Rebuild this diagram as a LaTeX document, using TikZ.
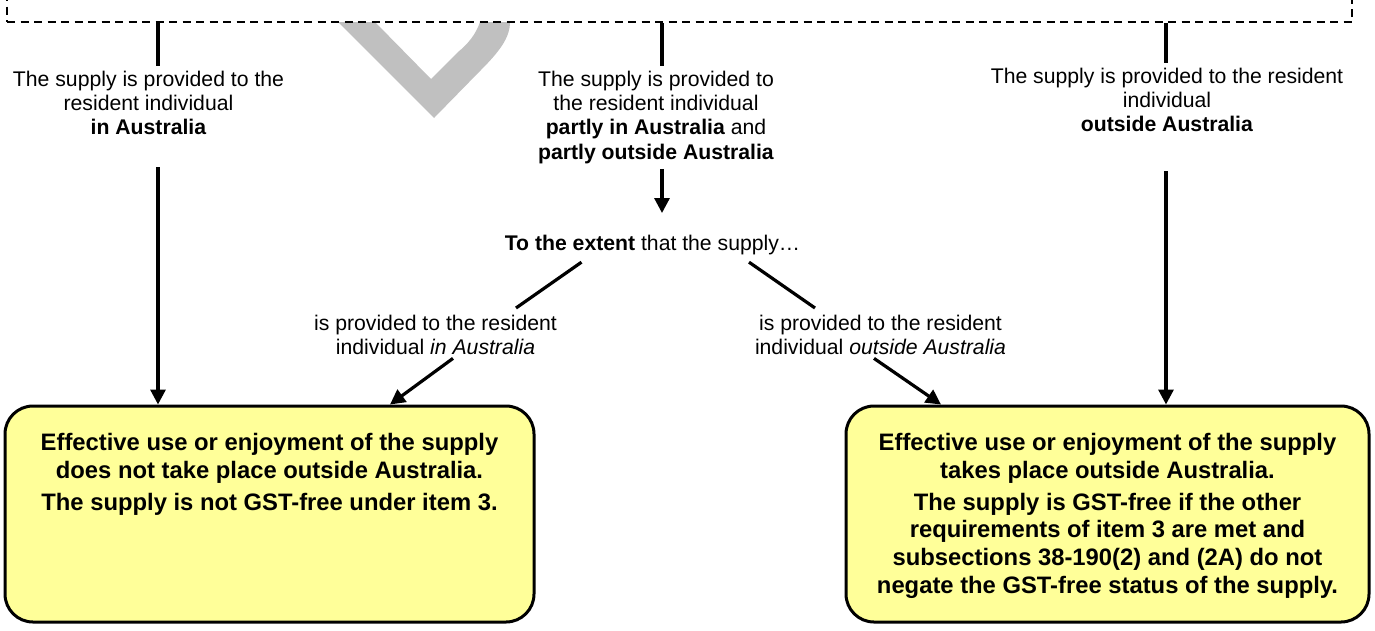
\documentclass[tikz,border=0pt]{standalone}
\usepackage{fontspec}
\setmainfont{Liberation Sans}
\usetikzlibrary{arrows.meta,calc}
\definecolor{boxfill}{RGB}{255,255,153}
\definecolor{wmgrey}{RGB}{192,192,192}
\begin{document}
\begin{tikzpicture}[x=1pt,y=-1pt,
  lbl/.style={align=center,inner xsep=0pt,inner ysep=5pt,anchor=north,font=\fontsize{21.2pt}{24.4pt}\selectfont},
  boxtxt/.style={align=center,inner sep=0pt,anchor=north,font=\fontsize{23.8pt}{27.8pt}\selectfont\bfseries},
  resbox/.style={draw,line width=3pt,fill=boxfill,rounded corners=28pt,minimum height=216pt,inner sep=0pt},
  conn/.style={line width=3.2pt},
  arr/.style={conn,-{Triangle[length=15pt,width=15pt]}},
  dashbox/.style={draw,dash pattern=on 8pt off 5.5pt,line width=1.8pt,inner sep=0pt}]
\useasboundingbox (0,0) rectangle (1375,630);
\clip (0,0) rectangle (1375,630);
% watermark fragment
\fill[wmgrey] (338,22) -- (434,118) -- (480,71) .. controls (499,52) and (510,38) .. (510,22)
  -- (480,22) .. controls (476,34) and (468,44) .. (458,52) -- (431,79) -- (375,22) -- cycle;
% top dashed box (cut off)
\node[dashbox,minimum width=1345pt,minimum height=60pt] (top) at (679.5,-8) {};
% columns
\coordinate (colL) at (158,0);
\coordinate (colM) at (662,0);
\coordinate (colR) at (1166,0);
% labels
\node[lbl] (lblL) at (148.5,65.5) {The supply is provided to the\\resident individual\\\textbf{in Australia}};
\node[lbl] (lblM) at (656,65.5) {The supply is provided to\\the resident individual\\\textbf{partly in Australia} and\\\textbf{partly outside Australia}};
\node[lbl] (lblR) at (1167,62.5) {The supply is provided to the resident\\individual\\\textbf{outside Australia}};
\node[lbl] (extent) at (652.5,230) {\textbf{To the extent} that the supply…};
\node[lbl] (inL) at (435.5,310) {is provided to the resident\\individual \textit{in Australia}};
\node[lbl] (inR) at (880.5,310) {is provided to the resident\\individual \textit{outside Australia}};
% result boxes
\node[resbox,minimum width=529pt] (boxL) at (269.5,514) {};
\node[resbox,minimum width=523pt] (boxR) at (1107.5,514) {};
\node[boxtxt] (txtL) at (269.5,433) {Effective use or enjoyment of the supply\\does not take place outside Australia.\\[4pt]The supply is not GST-free under item 3.};
\node[boxtxt] (txtR) at (1107.5,433) {Effective use or enjoyment of the supply\\takes place outside Australia.\\[4pt]The supply is GST-free if the other\\requirements of item 3 are met and\\subsections 38-190(2) and (2A) do not\\negate the GST-free status of the supply.};
% connectors
\draw[conn] (top.south -| colL) -- (lblL.north -| colL);
\draw[arr,shorten <=27pt] (lblL.south -| colL) -- (boxL.north -| colL);
\draw[conn] (top.south -| colM) -- (lblM.north -| colM);
\draw[arr,shorten >=17pt] (lblM.south -| colM) -- (extent.north -| colM);
\draw[conn] (top.south -| colR) -- (lblR.north -| colR);
\draw[arr,shorten <=34pt] (lblR.south -| colR) -- (boxR.north -| colR);
\draw[conn] ([xshift=-71pt,yshift=-2pt]extent.south) -- ([xshift=80.5pt,yshift=2pt]inL.north);
\draw[arr] ([xshift=17.5pt,yshift=2pt]inL.south) -- ([xshift=120.5pt]boxL.north);
\draw[conn] ([xshift=96.5pt,yshift=-2pt]extent.south) -- ([xshift=-65.5pt,yshift=2pt]inR.north);
\draw[arr] ([xshift=-6.5pt,yshift=2pt]inR.south) -- ([xshift=-166.5pt]boxR.north);
\end{tikzpicture}
\end{document}
